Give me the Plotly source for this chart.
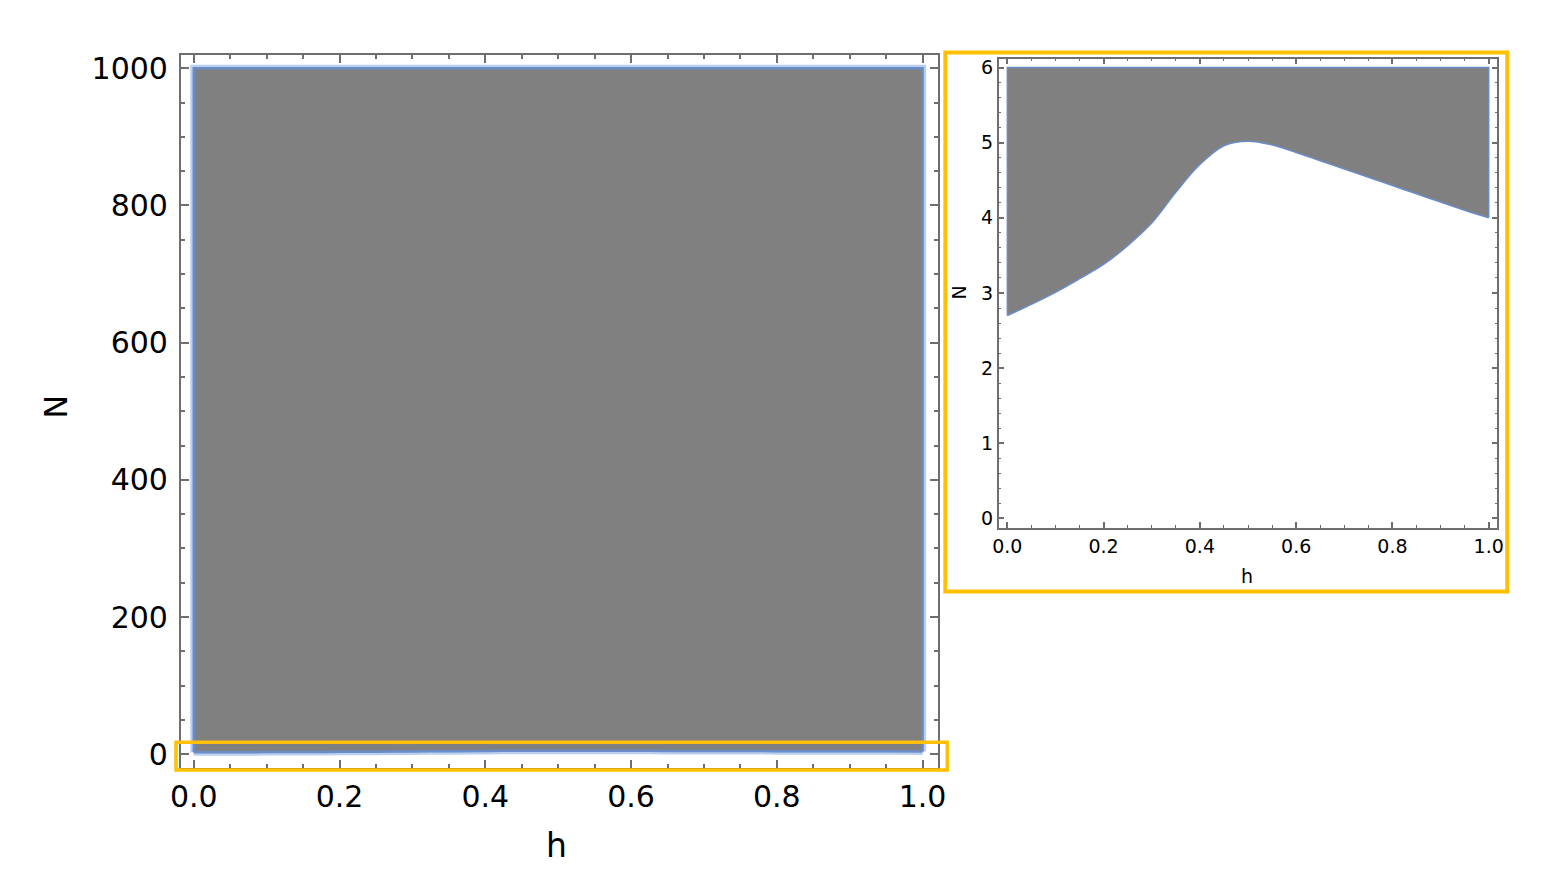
import plotly.graph_objects as go

# ---- data ----
h_vals = [0.0, 0.05, 0.1, 0.15, 0.2, 0.25, 0.3, 0.35, 0.4, 0.45, 0.5,
          0.55, 0.6, 0.65, 0.7, 0.75, 0.8, 0.85, 0.9, 0.95, 1.0]
n_lower = [2.70, 2.85, 3.01, 3.19, 3.38, 3.63, 3.93, 4.34, 4.71, 4.96, 5.02,
           4.97, 4.87, 4.76, 4.65, 4.54, 4.43, 4.32, 4.21, 4.10, 4.00]
n_upper_main = 1000
n_upper_inset = 6
main_xticks = [0.0, 0.2, 0.4, 0.6, 0.8, 1.0]
main_yticks = [0, 200, 400, 600, 800, 1000]
inset_yticks = [0, 1, 2, 3, 4, 5, 6]

OFF = 8                      # page body margin
W, H = 1544 - 2 * OFF, 875 - 2 * OFF


def px_x(a, b):
    return [(a - OFF) / W, (b - OFF) / W]


def px_y(top, bottom):
    return [1 - (bottom - OFF) / H, 1 - (top - OFF) / H]


def pxx(a):
    return (a - OFF) / W


def pxy(a):
    return 1 - (a - OFF) / H


FILL = "#808080"
EDGE = "#6A8CC8"
HALO = "rgba(170,195,235,0.8)"

fig = go.Figure()


def add_region(upper, xa, ya, lw, halo=False):
    x0, x1 = h_vals[0], h_vals[-1]
    outline_x = [x0, x0, x1, x1]
    outline_y = [n_lower[0], upper, upper, n_lower[-1]]
    if halo:
        fig.add_trace(go.Scatter(x=h_vals, y=n_lower, mode="lines", line_shape="spline",
                                 line=dict(color=HALO, width=7), xaxis=xa, yaxis=ya))
        fig.add_trace(go.Scatter(x=outline_x, y=outline_y, mode="lines",
                                 line=dict(color=HALO, width=7), xaxis=xa, yaxis=ya))
    fig.add_trace(go.Scatter(x=h_vals, y=n_lower, mode="lines", line_shape="spline",
                             line=dict(color=EDGE, width=0), xaxis=xa, yaxis=ya))
    fig.add_trace(go.Scatter(x=[x0, x1], y=[upper, upper], mode="lines", fill="tonexty",
                             fillcolor=FILL, line=dict(color=EDGE, width=0),
                             xaxis=xa, yaxis=ya))
    fig.add_trace(go.Scatter(x=outline_x, y=outline_y, mode="lines",
                             line=dict(color=EDGE, width=lw), xaxis=xa, yaxis=ya))
    fig.add_trace(go.Scatter(x=h_vals, y=n_lower, mode="lines", line_shape="spline",
                             line=dict(color=EDGE, width=lw), xaxis=xa, yaxis=ya))


add_region(n_upper_main, "x", "y", 2.5, halo=True)
add_region(n_upper_inset, "x2", "y2", 1.5)

FRAME = "#6E6E6E"
FONT = "DejaVu Sans, Liberation Sans, Arial, sans-serif"


def axis_common(**kw):
    d = dict(showgrid=False, zeroline=False, showline=True, linecolor=FRAME,
             linewidth=2, mirror="ticks", ticks="inside", tickcolor=FRAME,
             tickwidth=1.5, fixedrange=True)
    d.update(kw)
    return d


fig.update_layout(
    width=W, height=H,
    margin=dict(l=0, r=0, t=0, b=0),
    paper_bgcolor="white", plot_bgcolor="white",
    showlegend=False,
    font=dict(family=FONT, color="black"),
    xaxis=axis_common(domain=px_x(172, 939), range=[-0.0176, 1.0217],
                      tickvals=main_xticks, ticktext=[f"{v:.1f}" for v in main_xticks],
                      ticklen=8, tickfont=dict(size=30), ticklabelstandoff=1,
                      minor=dict(dtick=0.05, tick0=0, ticks="inside", ticklen=4,
                                 tickcolor=FRAME, tickwidth=1.5),
                      anchor="y"),
    yaxis=axis_common(domain=px_y(51, 771), range=[-20, 1020],
                      tickvals=main_yticks, ticktext=[str(v) for v in main_yticks],
                      ticklen=8, tickfont=dict(size=30), ticklabelstandoff=5,
                      minor=dict(dtick=50, tick0=0, ticks="inside", ticklen=4,
                                 tickcolor=FRAME, tickwidth=1.5),
                      anchor="x"),
    xaxis2=axis_common(domain=px_x(1000, 1505), range=[-0.018, 1.018],
                       tickvals=main_xticks, ticktext=[f"{v:.1f}" for v in main_xticks],
                       ticklen=6, tickfont=dict(size=19), ticklabelstandoff=0,
                       minor=dict(dtick=0.05, tick0=0, ticks="inside", ticklen=3,
                                  tickcolor=FRAME, tickwidth=1.2),
                       linewidth=1.5, anchor="y2"),
    yaxis2=axis_common(domain=px_y(55, 529), range=[-0.13, 6.12],
                       tickvals=inset_yticks, ticktext=[str(v) for v in inset_yticks],
                       ticklen=6, tickfont=dict(size=19), ticklabelstandoff=0,
                       minor=dict(dtick=0.2, tick0=0, ticks="inside", ticklen=3,
                                  tickcolor=FRAME, tickwidth=1.2),
                       linewidth=1.5, anchor="x2"),
)

# axis titles
ann = dict(xref="paper", yref="paper", showarrow=False, xanchor="center", yanchor="middle")
fig.add_annotation(x=pxx(46), y=pxy(407), text="N", textangle=-90,
                   font=dict(size=32, family=FONT), **ann)
fig.add_annotation(x=pxx(552), y=pxy(849), text="h",
                   font=dict(size=33, family=FONT), **ann)
fig.add_annotation(x=pxx(960), y=pxy(291), text="N", textangle=-90,
                   font=dict(size=19, family=FONT), **ann)
fig.add_annotation(x=pxx(1251), y=pxy(577), text="h",
                   font=dict(size=19, family=FONT), **ann)

# highlight boxes
ORANGE = "#FFC000"
fig.add_shape(type="rect", xref="paper", yref="paper",
              x0=pxx(167), x1=pxx(948), y0=pxy(773), y1=pxy(745),
              line=dict(color=ORANGE, width=3.5))
fig.add_shape(type="rect", xref="paper", yref="paper",
              x0=pxx(946), x1=pxx(1515), y0=pxy(593), y1=pxy(49),
              line=dict(color=ORANGE, width=4))

fig.write_html("out.html")
